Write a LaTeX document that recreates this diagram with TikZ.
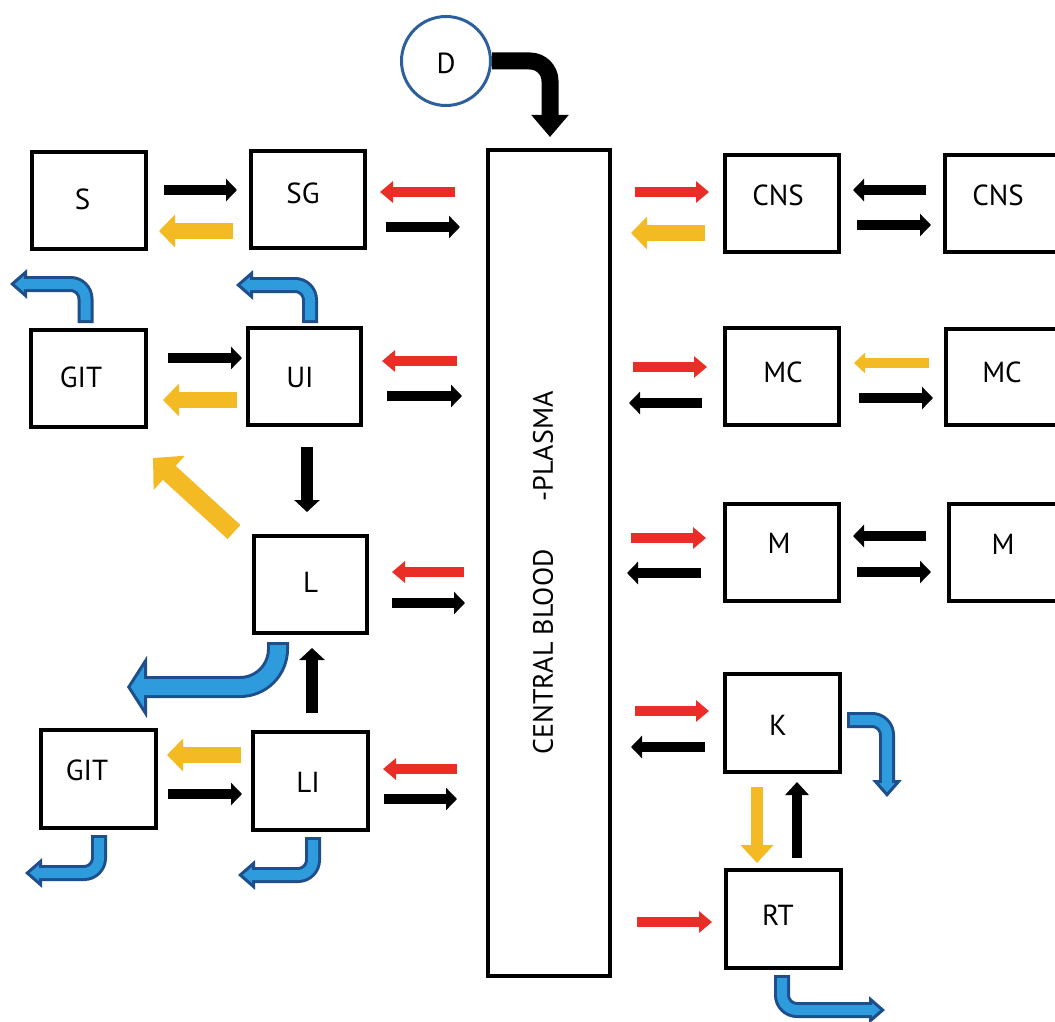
\documentclass[tikz,border=0pt]{standalone}
\usepackage{fontspec}
\setmainfont{PT Sans}
\usetikzlibrary{arrows.meta}
\definecolor{myred}{RGB}{234,45,38}
\definecolor{myyel}{RGB}{243,186,36}
\definecolor{bluedk}{RGB}{30,78,140}
\definecolor{bluelt}{RGB}{45,155,220}
\definecolor{circblue}{RGB}{45,95,155}
\newcommand\bx[8]{%
  \node[box, minimum width=#4pt, minimum height=#5pt] (#1) at (#2,#3) {};
  \node[lbl] (#1-t) at ([xshift=#7pt,yshift=#8pt]#1.center) {#6};}
% #1 outer width, #2 inner width, #3 head length, #4 head width, #5 radius, #6 path
\newcommand\bluearrow[6]{%
  \draw[bluedk, line width=#1pt, rounded corners=#5pt,
        -{Triangle[length=#3pt, width=#4pt, fill=bluelt, line width=3pt]}] #6;
  \draw[bluelt, line width=#2pt, rounded corners=#5pt, shorten <=3pt, shorten >=#3pt-4pt] #6;}
\begin{document}
\begin{tikzpicture}[x=1pt,y=-1pt,
  box/.style={draw, line width=4pt, inner sep=0pt},
  lbl/.style={font=\fontsize{29}{30}\selectfont, inner sep=0pt, text depth=0pt},
  blk/.style={line width=10pt, -{Triangle[length=11pt,width=22pt]}},
  blkv/.style={line width=12pt, -{Triangle[length=12pt,width=25pt]}},
  redar/.style={myred, line width=9.5pt, -{Triangle[length=13pt,width=21pt]}},
  yelar/.style={myyel, line width=16pt, -{Triangle[length=16pt,width=32pt]}}]
\useasboundingbox (0,0) rectangle (1055,1022);

% boxes
\bx{S}{89}{200.5}{114}{97}{S}{-6.5}{1.5}
\bx{SG}{308}{199.5}{114}{97}{SG}{-5}{6.5}
\bx{GITa}{88.5}{378.5}{115}{97}{GIT}{-7.5}{1.5}
\bx{UI}{304.5}{376.5}{113}{97}{UI}{-4.5}{-0.5}
\bx{L}{310.5}{584.5}{113}{97}{L}{0}{2.5}
\bx{GITb}{98.5}{779}{115}{98}{GIT}{-11.5}{9}
\bx{LI}{310.5}{781}{115}{98}{LI}{-2.5}{-1}
\bx{CNSa}{782}{203.5}{114}{97}{CNS}{-4}{8.5}
\bx{CNSb}{1002}{203.5}{114}{97}{CNS}{-4}{8.5}
\bx{MCa}{782}{376.5}{114}{97}{MC}{1}{4.5}
\bx{MCb}{1003}{377}{114}{96}{MC}{-1}{5}
\bx{Ma}{782}{552.5}{114}{97}{M}{-3}{9.5}
\bx{Mb}{1006}{552.5}{114}{97}{M}{-3}{8.5}
\bx{K}{782.5}{723}{115}{98}{K}{-4.5}{-2}
\bx{RT}{783.5}{919}{115}{98}{RT}{-5.5}{4}

% central
\node[box, minimum width=122pt, minimum height=826pt] (C) at (549,563) {};
\node[font=\fontsize{28}{30}\selectfont, inner sep=0pt, rotate=90] (C-t) at (543,573)
  {CENTRAL BLOOD\hspace{48pt}-PLASMA};

% D
\node[draw=circblue, line width=3pt, circle, minimum size=89pt, inner sep=0pt] (D) at (446,61) {};
\node[lbl] (D-t) at ([yshift=-2pt]D.center) {D};
\draw[line width=17pt, rounded corners=20pt, -{Triangle[length=22pt,width=36pt]}]
  (D.east) -| (550,137);

% black horizontal
\draw[blk] (164,190) -- (237,190);
\draw[blk] (386,227) -- (460,227);
\draw[blk] (168,358) -- (242,358);
\draw[blk] (387,396) -- (462,396);
\draw[blk] (392,603) -- (465,603);
\draw[blk] (168,794) -- (242,794);
\draw[blk] (384,799) -- (457,799);
\draw[blk] (926,190) -- (853,190);
\draw[blk] (857,225) -- (931,225);
\draw[blk] (702,403) -- (629,403);
\draw[blk] (859,398) -- (933,398);
\draw[blk] (701,573) -- (627,573);
\draw[blk] (926,536) -- (853,536);
\draw[blk] (857,572) -- (931,572);
\draw[blk] (705,747) -- (631,747);
% black vertical
\draw[blkv] (307,447) -- (307,512);
\draw[blkv] (312,713) -- (312,648);
\draw[line width=10pt, -{Triangle[length=13pt,width=23pt]}] (797,858) -- (797,782);

% red
\draw[redar] (455,192) -- (380,192);
\draw[redar] (457,361) -- (382,361);
\draw[redar] (464,572) -- (392,572);
\draw[redar] (457,769) -- (383,769);
\draw[redar] (635,192) -- (709,192);
\draw[redar] (633,367) -- (707,367);
\draw[redar] (631,538) -- (706,538);
\draw[redar] (635,711) -- (709,711);
\draw[redar] (637,922) -- (712,922);

% yellow
\draw[yelar] (233,231) -- (159,231);
\draw[yelar] (237,400) -- (163,400);
\draw[yelar] (241,755) -- (167,755);
\draw[yelar] (705,233) -- (631,233);
\draw[myyel, line width=19pt, -{Triangle[length=22pt,width=45pt]}] (234,532) -- (153,458);
\draw[myyel, line width=12pt, -{Triangle[length=18pt,width=32pt]}] (757,787) -- (757,863);
\draw[myyel, line width=10pt, -{Triangle[length=11pt,width=20pt]}] (929,363) -- (854,363);

% blue
\bluearrow{16}{10}{17}{29}{15}{(85.5,323) |- (10,284)}
\bluearrow{16}{10}{17}{29}{15}{(310,323) |- (236,285)}
\bluearrow{16}{10}{17}{29}{15}{(99,835) |- (25,873)}
\bluearrow{16}{10}{17}{29}{15}{(313,837) |- (238,875)}
\bluearrow{16}{10}{17}{29}{15}{(847,720) -| (887,797)}
\bluearrow{16}{10}{16}{27}{15}{(782,975) |- (885,1010)}
\bluearrow{22}{16}{20}{62}{38}{(278,642) |- (127,687)}
\end{tikzpicture}
\end{document}
